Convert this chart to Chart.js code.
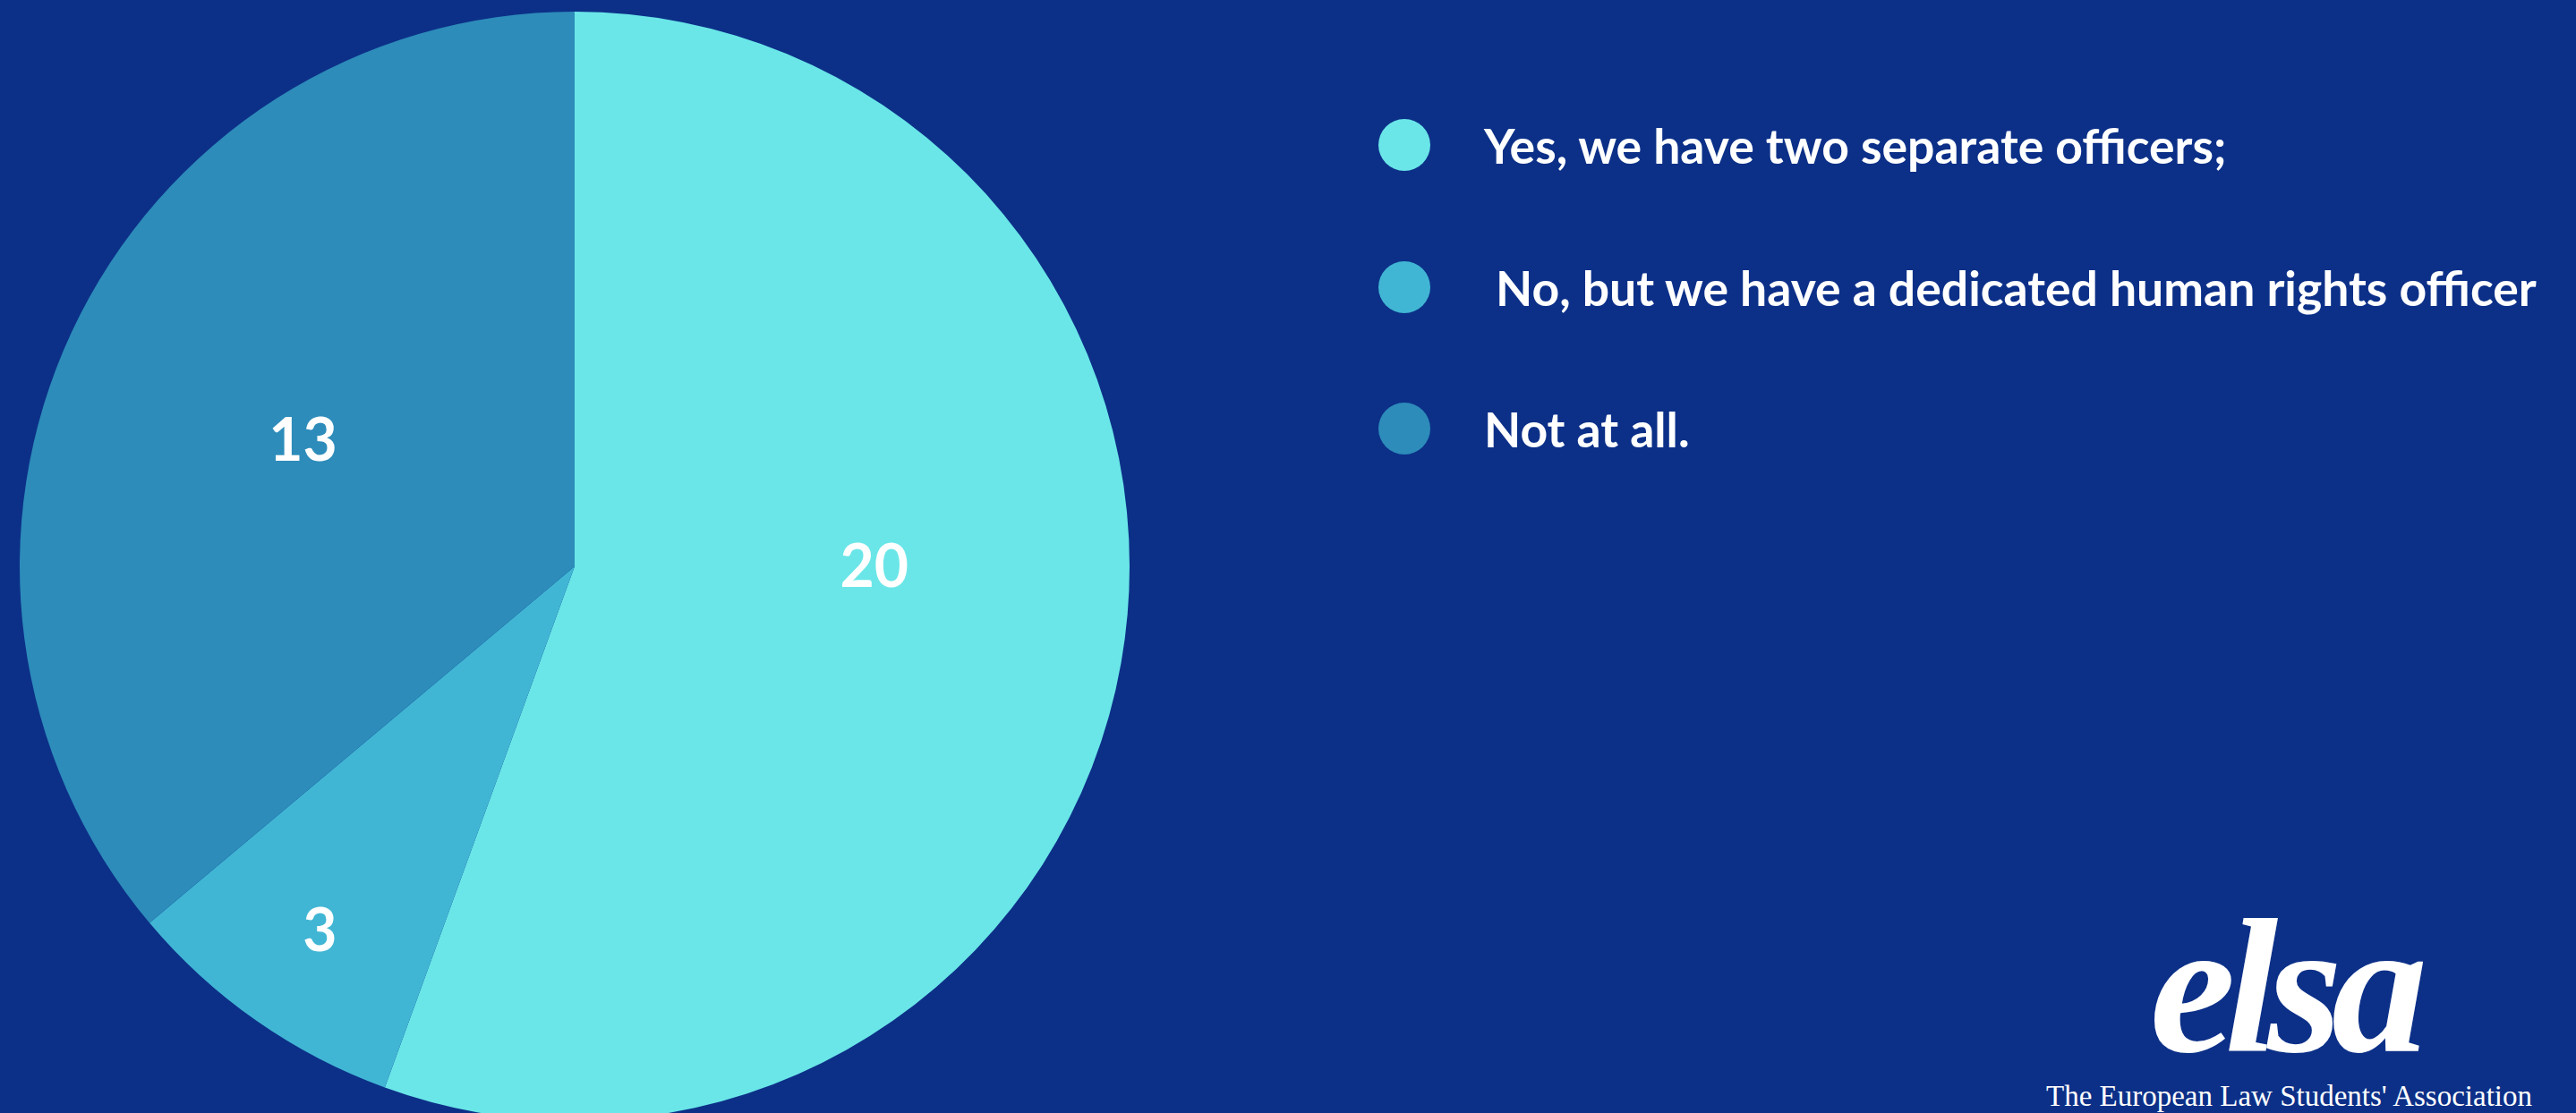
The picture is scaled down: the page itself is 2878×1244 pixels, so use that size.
<!DOCTYPE html>
<html lang="en">
<head>
<meta charset="utf-8">
<title>Human rights officers</title>
<script src="https://cdn.jsdelivr.net/npm/chart.js@4.4.1/dist/chart.umd.min.js"></script>
<style>
    html, body {
        margin: 0;
        padding: 0;
        width: 2878px;
        height: 1244px;
        overflow: hidden;
        background: #0c3088;
    }

    #pizza {
        position: absolute;
        left: 22px;
        top: 13px;
        width: 1240px;
        height: 1240px;
    }

    #legenda {
        position: absolute;
        left: 1540px;
        top: 133px;
        font-family: Lato, sans-serif;
        font-weight: 700;
        font-size: 53.5px;
        color: #ffffff;
    }

    .legenda-item {
        display: flex;
        align-items: center;
        height: 58px;
        line-height: 58px;
        margin-bottom: 100.5px;
        white-space: pre;
    }

    .legenda-bola {
        width: 58px;
        height: 58px;
        border-radius: 50%;
        margin-right: 60px;
        flex: none;
    }

    #logo {
        position: absolute;
        left: 2402px;
        top: 995px;
        font-family: "Liberation Serif", serif;
        font-style: italic;
        font-weight: 700;
        font-size: 215px;
        line-height: 215px;
        letter-spacing: -12px;
        color: #ffffff;
    }

    #logo-nome {
        position: absolute;
        left: 2286px;
        top: 1208px;
        font-family: "Liberation Serif", serif;
        font-size: 33px;
        line-height: 34px;
        color: #ffffff;
        white-space: nowrap;
    }
</style>
</head>
<body>
<div id="pizza"><canvas id="grafico"></canvas></div>
<div id="legenda"></div>
<div id="logo">elsa</div>
<div id="logo-nome">The European Law Students' Association</div>

<script>
const categorias = [
    'Yes, we have two separate officers;',
    ' No, but we have a dedicated human rights officer',
    'Not at all.'
];
const respostas = [20, 3, 13];
const cores = ['#6ae6e8', '#41b6d4', '#2d8cba'];

// escreve o valor de cada fatia dentro dela
const rotulosFatias = {
    id: 'rotulosFatias',
    afterDatasetsDraw(chart) {
        const ctx = chart.ctx;
        const meta = chart.getDatasetMeta(0);

        ctx.save();
        ctx.fillStyle = '#ffffff';
        ctx.font = '700 66px Lato, sans-serif';
        ctx.textAlign = 'center';
        ctx.textBaseline = 'middle';

        meta.data.forEach((arco, i) => {
            const { x, y, startAngle, endAngle, outerRadius } =
                arco.getProps(['x', 'y', 'startAngle', 'endAngle', 'outerRadius'], true);

            // fatia maior que meia volta: usa o meio da primeira meia volta
            const fim = Math.min(endAngle, startAngle + Math.PI);
            const meio = (startAngle + fim) / 2;
            const fracao = (endAngle - startAngle) < Math.PI / 4 ? 0.8 : 0.54;
            const raio = outerRadius * fracao;

            ctx.fillText(String(respostas[i]), x + Math.cos(meio) * raio, y + Math.sin(meio) * raio + 2);
        });

        ctx.restore();
    }
};

function montarLegenda() {
    const legenda = document.getElementById('legenda');

    categorias.forEach((categoria, i) => {
        const item = document.createElement('div');
        item.className = 'legenda-item';

        const bola = document.createElement('span');
        bola.className = 'legenda-bola';
        bola.style.background = cores[i];

        const texto = document.createElement('span');
        texto.textContent = categoria;

        item.appendChild(bola);
        item.appendChild(texto);
        legenda.appendChild(item);
    });
}

montarLegenda();

new Chart(document.getElementById('grafico').getContext('2d'), {
    type: 'pie',
    data: {
        labels: categorias,
        datasets: [{
            data: respostas,
            backgroundColor: cores,
            borderWidth: 0
        }]
    },
    options: {
        responsive: true,
        maintainAspectRatio: false,
        animation: false,
        layout: { padding: 0 },
        plugins: {
            legend: { display: false },
            tooltip: { enabled: false }
        }
    },
    plugins: [rotulosFatias]
});
</script>
</body>
</html>
